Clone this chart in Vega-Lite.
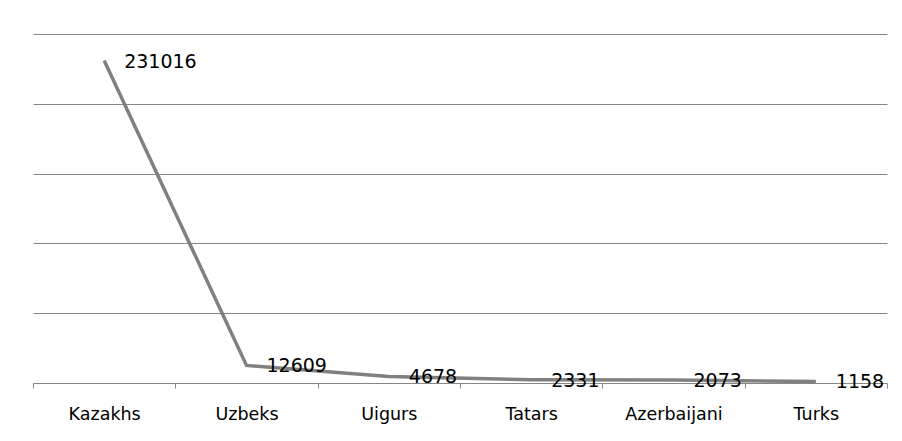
{
  "$schema": "https://vega.github.io/schema/vega-lite/v6.json",
  "autosize": "none",
  "width": 854,
  "height": 349,
  "padding": {"left": 33, "top": 34, "right": 15, "bottom": 58},
  "background": "white",
  "config": {"view": {"stroke": null}, "font": "DejaVu Sans"},
  "data": {"values": [
    {"group": "Kazakhs", "count": 231016},
    {"group": "Uzbeks", "count": 12609},
    {"group": "Uigurs", "count": 4678},
    {"group": "Tatars", "count": 2331},
    {"group": "Azerbaijani", "count": 2073},
    {"group": "Turks", "count": 1158}
  ]},
  "encoding": {
    "x": {"field": "group", "type": "nominal", "sort": null, "bandPosition": 0.5,
      "scale": {"type": "band", "paddingInner": 0, "paddingOuter": 0},
      "axis": {"title": null, "labelAngle": 0, "labelFontSize": 17.5, "labelColor": "#000000",
        "labelPadding": 17, "domainColor": "#868686", "tickColor": "#868686", "tickSize": 5,
        "tickBand": "extent", "grid": false, "labelFont": "DejaVu Sans"}},
    "y": {"field": "count", "type": "quantitative",
      "scale": {"domain": [0, 250000], "nice": false},
      "axis": {"title": null, "labels": false, "ticks": false, "domain": false,
        "values": [50000, 100000, 150000, 200000, 250000], "gridColor": "#868686", "gridOpacity": 1}}
  },
  "layer": [
    {"mark": {"type": "line", "color": "#808080", "strokeWidth": 3.5}},
    {"mark": {"type": "text", "align": "left", "baseline": "middle", "dx": 20, "dy": 1,
      "fontSize": 19, "color": "#000000", "font": "DejaVu Sans"},
      "encoding": {"text": {"field": "count", "type": "quantitative", "format": "d"}}}
  ]
}
